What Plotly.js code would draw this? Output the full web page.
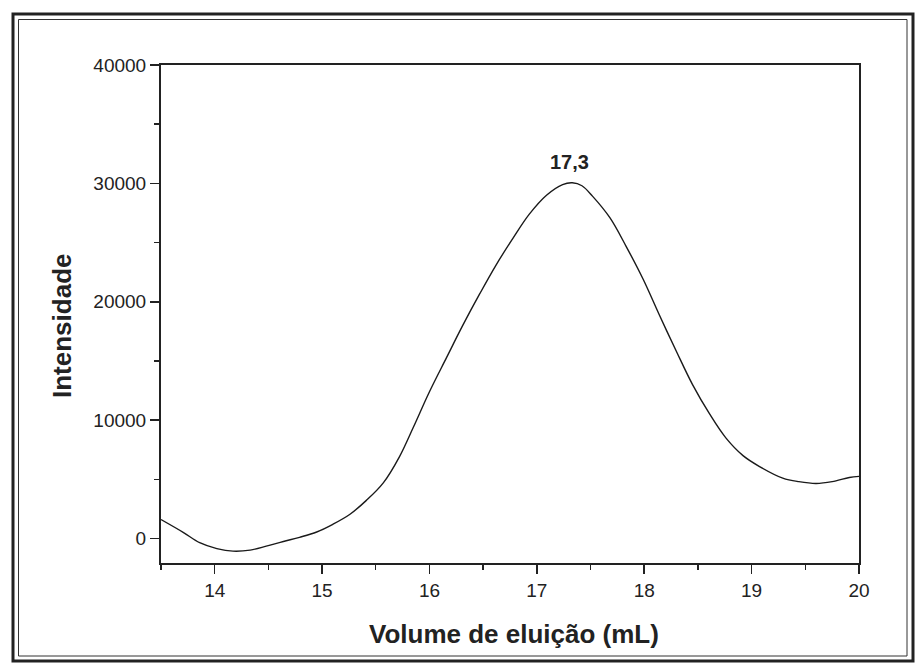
<!DOCTYPE html>
<html>
<head>
<meta charset="utf-8">
<script src="https://cdn.plot.ly/plotly-3.0.1.min.js"></script>
<style>html,body{margin:0;padding:0;background:#fff;}#chart{width:915px;height:664px;}</style>
</head>
<body>
<div id="chart"></div>
<script>
// Elution volume (mL)
const volume = [13.5, 13.71, 13.86, 14.02, 14.17, 14.33, 14.48, 14.64, 14.79, 14.95, 15.10, 15.26, 15.41, 15.57, 15.72, 15.85, 16.0, 16.16, 16.31, 16.47, 16.62, 16.78, 16.93, 17.09, 17.24, 17.33, 17.42, 17.52, 17.68, 17.83, 17.99, 18.14, 18.30, 18.45, 18.61, 18.76, 18.92, 19.07, 19.29, 19.44, 19.60, 19.75, 19.91, 20.0];
// Intensity
const intensity = [1600, 500, -350, -850, -1070, -980, -650, -250, 100, 550, 1200, 2050, 3200, 4700, 6900, 9400, 12400, 15300, 18000, 20700, 23100, 25400, 27400, 29000, 29900, 30050, 29800, 28900, 27100, 24700, 21900, 18900, 15800, 13000, 10500, 8500, 7000, 6100, 5100, 4800, 4650, 4800, 5150, 5250];
const xTicks = [14, 15, 16, 17, 18, 19, 20];
const yTicks = [0, 10000, 20000, 30000, 40000];
const peakLabel = {x: 17.3, y: 30050, text: "17,3"};
const xTitle = 'Volume de eluição (mL)';
const yTitle = 'Intensidade';

const W = 915, H = 664, L = 161, R = 56, T = 65, B = 101;
const pw = W - L - R, ph = H - T - B;
const px = v => (v - L) / pw;
const py = v => (H - B - v) / ph;

const font = "Arial, 'Liberation Sans', sans-serif";

const trace = {
  x: volume, y: intensity, type: 'scatter', mode: 'lines',
  line: {color: '#1a1a1a', width: 1.4, shape: 'spline', smoothing: 1},
  hoverinfo: 'skip'
};

const layout = {
  width: W, height: H,
  margin: {l: L, r: R, t: T, b: B},
  paper_bgcolor: '#ffffff', plot_bgcolor: '#ffffff',
  showlegend: false,
  font: {family: font, color: '#222'},
  xaxis: {
    range: [13.5, 20], tickvals: xTicks, ticktext: xTicks.map(String),
    ticks: 'outside', ticklen: 9, tickwidth: 1.6, tickcolor: '#222',
    minor: {dtick: 0.5, tick0: 0, ticks: 'outside', ticklen: 5, tickwidth: 1.4, tickcolor: '#222'},
    showline: true, linewidth: 2, linecolor: '#222', mirror: true,
    showgrid: false, zeroline: false,
    tickfont: {size: 19, family: font, color: '#222'}
  },
  yaxis: {
    range: [-2070, 40000], tickvals: yTicks, ticktext: yTicks.map(String),
    ticks: 'outside', ticklen: 9, tickwidth: 1.6, tickcolor: '#222',
    minor: {dtick: 5000, tick0: 0, ticks: 'outside', ticklen: 5, tickwidth: 1.4, tickcolor: '#222'},
    showline: true, linewidth: 2, linecolor: '#222', mirror: true,
    showgrid: false, zeroline: false,
    tickfont: {size: 19, family: font, color: '#222'}
  },
  annotations: [
    {x: peakLabel.x, y: peakLabel.y, xref: 'x', yref: 'y', text: '<b>' + peakLabel.text + '</b>',
     showarrow: false, yanchor: 'bottom', yshift: 8,
     font: {size: 20, family: font, color: '#222'}},
    {x: px(514), y: py(634), xref: 'paper', yref: 'paper', text: '<b>' + xTitle + '</b>',
     showarrow: false, xanchor: 'center', yanchor: 'middle',
     font: {size: 26, family: font, color: '#222'}},
    {x: px(62), y: py(326), xref: 'paper', yref: 'paper', text: '<b>' + yTitle + '</b>',
     showarrow: false, xanchor: 'center', yanchor: 'middle', textangle: -90,
     font: {size: 26, family: font, color: '#222'}}
  ],
  shapes: [
    {type: 'rect', xref: 'paper', yref: 'paper', x0: px(13), x1: px(913), y0: py(14), y1: py(661),
     line: {color: '#222', width: 3}, fillcolor: 'rgba(0,0,0,0)'},
    {type: 'rect', xref: 'paper', yref: 'paper', x0: px(18.5), x1: px(907), y0: py(19.5), y1: py(656),
     line: {color: '#333', width: 1}, fillcolor: 'rgba(0,0,0,0)'}
  ]
};

Plotly.newPlot('chart', [trace], layout, {displayModeBar: false, staticPlot: true});
</script>
</body>
</html>
